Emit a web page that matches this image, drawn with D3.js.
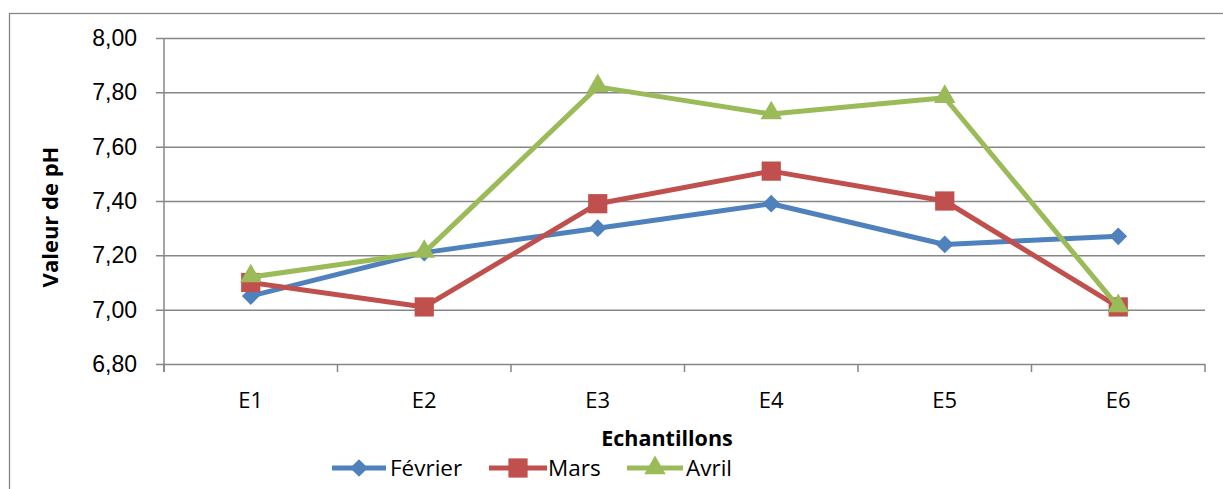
<!DOCTYPE html>
<html>
<head>
<meta charset="utf-8">
<script src="https://cdn.jsdelivr.net/npm/d3@7"></script>
<style>
  body { margin: 0; background: #fff; }
  svg { display: block; font-family: "Open Sans", sans-serif; }
</style>
</head>
<body>
<div id="chart"></div>
<script>
// data
var categories = ['E1', 'E2', 'E3', 'E4', 'E5', 'E6'];
var fevrier = [7.05, 7.21, 7.30, 7.39, 7.24, 7.27];
var mars    = [7.10, 7.01, 7.39, 7.51, 7.40, 7.01];
var avril   = [7.12, 7.21, 7.82, 7.72, 7.78, 7.01];
var yTicks  = [6.8, 7.0, 7.2, 7.4, 7.6, 7.8, 8.0];

var series = [
  {name: 'Février', values: fevrier, color: '#4F81BD', symbol: 'diamond'},
  {name: 'Mars',    values: mars,    color: '#C0504D', symbol: 'square'},
  {name: 'Avril',   values: avril,   color: '#9BBB59', symbol: 'triangle'}
];

var width = 1223, height = 489;
var plot = {left: 164, right: 1205, top: 38, bottom: 364};

var svg = d3.select('#chart').append('svg')
  .attr('width', width)
  .attr('height', height);

// outer chart border (right and bottom run off the picture)
svg.append('rect')
  .attr('x', 9.5).attr('y', 13.5)
  .attr('width', 1240).attr('height', 500)
  .attr('fill', 'none')
  .attr('stroke', '#868686')
  .attr('stroke-width', 1.3);

var x = d3.scaleBand()
  .domain(categories)
  .range([plot.left, plot.right])
  .padding(0);

var y = d3.scaleLinear()
  .domain([6.8, 8.0])
  .range([plot.bottom, plot.top]);

var fmt = function(d) { return d3.format('.2f')(d).replace('.', ','); };

// y axis with gridlines
var yAxis = svg.append('g')
  .attr('transform', 'translate(' + plot.left + ',0)')
  .call(d3.axisLeft(y).tickValues(yTicks).tickFormat(fmt).tickSizeOuter(0).tickSize(8).tickPadding(19));
yAxis.select('.domain').remove();
yAxis.selectAll('.tick line')
  .attr('x2', plot.right - plot.left)
  .attr('x1', -8)
  .attr('stroke', '#868686')
  .attr('stroke-width', 1.5);
yAxis.selectAll('.tick text')
  .attr('fill', '#000')
  .style('font-size', '23px');

// vertical axis line
svg.append('line')
  .attr('x1', plot.left).attr('x2', plot.left)
  .attr('y1', plot.top).attr('y2', plot.bottom + 8)
  .attr('stroke', '#868686')
  .attr('stroke-width', 1.5);

// x axis: ticks on band edges, labels at centres
var edges = categories.map(function(c) { return x(c); }).concat([plot.right]);
svg.append('g').selectAll('line')
  .data(edges)
  .enter().append('line')
  .attr('x1', function(d) { return d; })
  .attr('x2', function(d) { return d; })
  .attr('y1', plot.bottom)
  .attr('y2', plot.bottom + 8)
  .attr('stroke', '#868686')
  .attr('stroke-width', 1.5);

svg.append('g').selectAll('text')
  .data(categories)
  .enter().append('text')
  .attr('x', function(d) { return x(d) + x.bandwidth() / 2; })
  .attr('y', 408)
  .attr('text-anchor', 'middle')
  .style('font-size', '22px')
  .text(function(d) { return d; });

// axis titles
svg.append('text')
  .attr('transform', 'translate(58,217) rotate(-90)')
  .attr('text-anchor', 'middle')
  .style('font-size', '22px')
  .style('font-weight', 'bold')
  .text('Valeur de pH');

svg.append('text')
  .attr('x', 667)
  .attr('y', 446)
  .attr('text-anchor', 'middle')
  .style('font-size', '21.5px')
  .style('font-weight', 'bold')
  .text('Echantillons');

var symbols = {
  diamond: d3.symbol().type(d3.symbolDiamond2).size(200),
  square: d3.symbol().type(d3.symbolSquare).size(370),
  triangle: d3.symbol().type(d3.symbolTriangle).size(200)
};

var line = d3.line()
  .x(function(d, i) { return x(categories[i]) + x.bandwidth() / 2; })
  .y(function(d) { return y(d); });

series.forEach(function(s) {
  var g = svg.append('g');
  g.append('path')
    .datum(s.values)
    .attr('d', line)
    .attr('fill', 'none')
    .attr('stroke', s.color)
    .attr('stroke-width', 5)
    .attr('stroke-linejoin', 'round');
  g.selectAll('path.mark')
    .data(s.values)
    .enter().append('path')
    .attr('class', 'mark')
    .attr('d', symbols[s.symbol])
    .attr('transform', function(d, i) {
      var dy = s.symbol === 'triangle' ? -1 : 0;
      return 'translate(' + (x(categories[i]) + x.bandwidth() / 2) + ',' + (y(d) + dy) + ')';
    })
    .attr('fill', s.color);
});

// legend
var legendPos = [
  {x1: 332, x2: 386, tx: 390},
  {x1: 489, x2: 547, tx: 548},
  {x1: 627, x2: 683, tx: 686}
];
var legendY = 468;
var legend = svg.append('g');
series.forEach(function(s, i) {
  var p = legendPos[i];
  legend.append('line')
    .attr('x1', p.x1).attr('x2', p.x2)
    .attr('y1', legendY).attr('y2', legendY)
    .attr('stroke', s.color)
    .attr('stroke-width', 5);
  legend.append('path')
    .attr('d', symbols[s.symbol])
    .attr('transform', 'translate(' + ((p.x1 + p.x2) / 2) + ',' + legendY + ')')
    .attr('fill', s.color);
  legend.append('text')
    .attr('x', p.tx)
    .attr('y', legendY + 8)
    .style('font-size', '22.5px')
    .text(s.name);
});
</script>
</body>
</html>
